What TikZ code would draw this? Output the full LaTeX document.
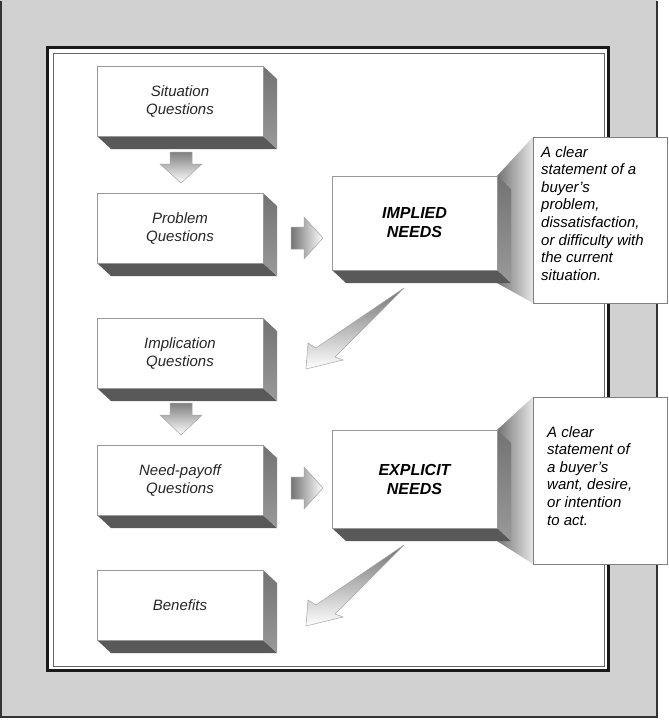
\documentclass[tikz,border=0pt]{standalone}
\usepackage{fontspec}
\setmainfont{Liberation Sans}
\begin{document}
\begin{tikzpicture}[x=1pt,y=-1pt,
  lbl/.style={font=\itshape\fontsize{15}{18}\selectfont,align=center,text=black!85},
  big/.style={font=\bfseries\itshape\fontsize{16}{19}\selectfont,align=center},
  note/.style={font=\itshape\fontsize{15}{17.6}\selectfont,align=left,anchor=north west,inner sep=0pt},
  arr/.style={draw=black!35,line width=0.5pt,left color=black!55,right color=white},
  darr/.style={draw=black!35,line width=0.5pt,top color=black!50,bottom color=white},
  dummy/.style={inner sep=0pt}]
\useasboundingbox (0,0) rectangle (669,720);
% frame
\fill[black!18] (0,0) rectangle (657,718);
\draw[black!80,line width=1.5pt] (1,1) -- (1,717) -- (657,717) -- (657,1);
\fill[white] (47,47) rectangle (609,671);
\draw[black!90,line width=3pt] (47.5,47.5) rectangle (608.5,670.5);
\draw[black!60,line width=1pt] (53,53) rectangle (604,666);
\newcommand{\mybox}[6]{%
  \fill[black!65] (#2,#5) -- (#2+14,#5+13) -- (#4+14,#5+13) -- (#4,#5) -- cycle;
  \shade[top color=black!55,bottom color=black!40] (#4,#3) -- (#4+14,#3+13) -- (#4+14,#5+13) -- (#4,#5) -- cycle;
  \draw[black!40,fill=white,line width=0.6pt] (#2,#3) rectangle (#4,#5);
  \node[#6] (#1) at ({(#2+#4)/2},{(#3+#5)/2}) {};
}
\newcommand{\myDarr}[3]{%
  \draw[darr] (#1-11,#2) -- (#1+11,#2) -- (#1+11,#2+12) -- (#1+21,#2+12) -- (#1,#3) -- (#1-21,#2+12) -- (#1-11,#2+12) -- cycle;}
\newcommand{\myRarr}[2]{%
  \draw[arr] (#1,#2-11) -- (#1+13,#2-11) -- (#1+13,#2-21) -- (#1+32,#2) -- (#1+13,#2+21) -- (#1+13,#2+11) -- (#1,#2+11) -- cycle;}
\newcommand{\myDiag}[2]{%
  \draw[draw=black!35,line width=0.5pt,top color=black!55,bottom color=white]
  (#1+98,#2-81) -- (#1+29,#2-12) -- (#1+37,#2-9) -- (#1,#2) -- (#1+2,#2-26) -- (#1+10,#2-21) -- cycle;}
\mybox{s}{97}{66}{263}{136}{dummy}
\mybox{p}{97}{193}{263}{263}{dummy}
\mybox{i}{97}{318}{263}{388}{dummy}
\mybox{n}{97}{445}{263}{515}{dummy}
\mybox{b}{97}{570}{263}{640}{dummy}
\node[lbl] at (s) {Situation\\Questions};
\node[lbl] at (p) {Problem\\Questions};
\node[lbl] at (i) {Implication\\Questions};
\node[lbl] at (n) {Need-payoff\\Questions};
\node[lbl] at (b) {Benefits};
% callouts
\shade[left color=black!55,right color=black!10] (497,176) -- (533,137) -- (533,303) -- (497,283) -- cycle;
\shade[left color=black!55,right color=black!10] (497,430) -- (533,397) -- (533,564) -- (497,541) -- cycle;
\mybox{im}{332}{176}{497}{270}{dummy}
\mybox{ex}{332}{430}{497}{528}{dummy}
\node[big] at (im) {IMPLIED\\NEEDS};
\node[big] at (ex) {EXPLICIT\\NEEDS};
\draw[black!50,fill=white] (533,137) rectangle (667,303);
\draw[black!50,fill=white] (533,397) rectangle (667,564);
\node[note] (c1) at (541,146) {A clear\\statement of a\\buyer’s\\problem,\\dissatisfaction,\\or difficulty with\\the current\\situation.};
\node[note] (c2) at (547,426) {A clear\\statement of\\a buyer’s\\want, desire,\\or intention\\to act.};
% arrows
\myDarr{181}{152}{183}
\myDarr{181}{403}{435}
\myRarr{291}{238}
\myRarr{291}{488}
\myDiag{306}{369}
\myDiag{306}{626}
\end{tikzpicture}
\end{document}
